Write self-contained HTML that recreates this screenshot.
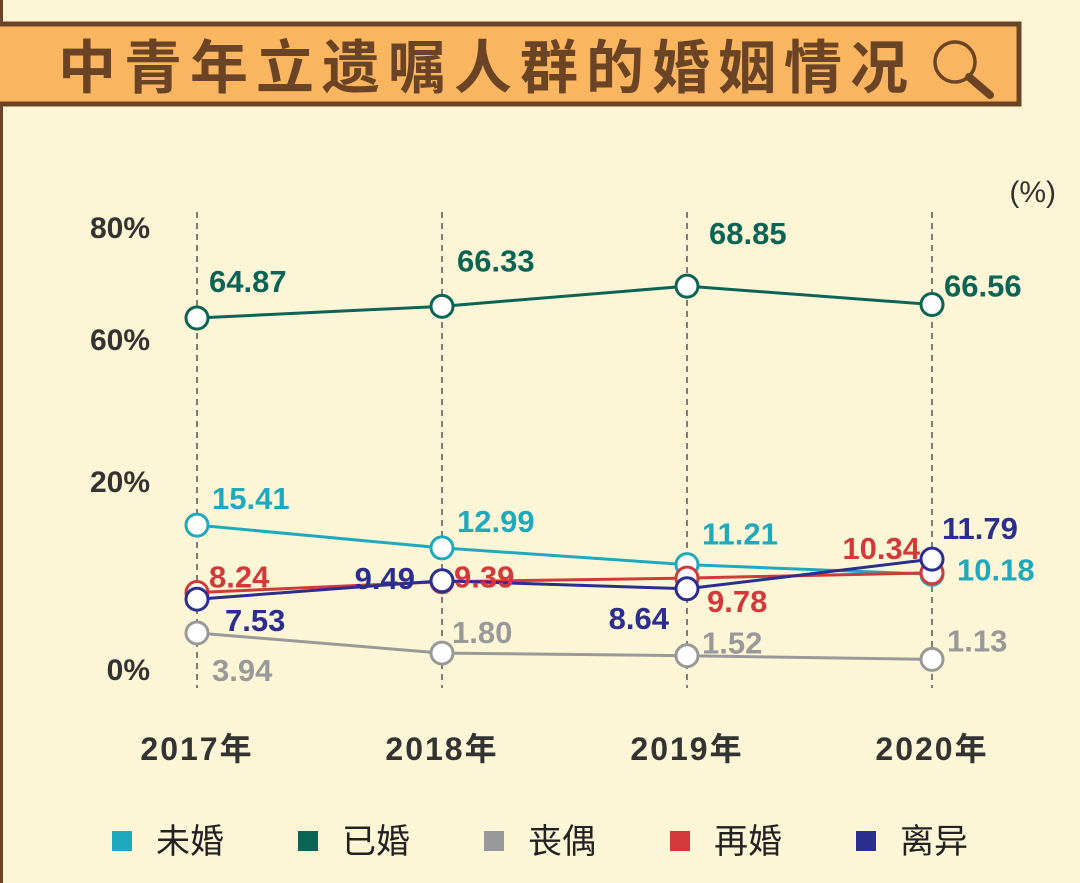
<!DOCTYPE html>
<html><head><meta charset="utf-8"><style>
body{margin:0;width:1080px;height:883px;background:#fdf6d6;overflow:hidden;font-family:"Liberation Sans","Noto Sans CJK SC",sans-serif}
</style></head><body>
<svg width="1080" height="883" style="position:absolute;left:0;top:0">
<rect x="0" y="0" width="1080" height="883" fill="#fdf6d6"/>
<rect x="0" y="0" width="3" height="883" fill="#6b4426"/>
<rect x="-4" y="24" width="1023" height="80" fill="#f9b560" stroke="#6b4426" stroke-width="5"/>
<text x="58" y="88" font-size="58" font-weight="bold" fill="#6b4426" font-family="Noto Sans CJK SC,sans-serif" letter-spacing="8">中青年立遗嘱人群的婚姻情况</text>
<g fill="none" stroke="#6b4426" stroke-width="3.5"><circle cx="955" cy="62" r="20"/><line x1="969" y1="77" x2="990" y2="95" stroke-width="8" stroke-linecap="round"/></g>
<text x="1056" y="202" font-size="30" text-anchor="end" fill="#333">(%)</text>
<g id="axis" font-size="30" font-weight="bold" fill="#333" text-anchor="end"></g>
<g id="grid"></g><g id="lines"></g><g id="labels"></g><g id="legend"></g>
</svg>
<script>
const years=["2017年","2018年","2019年","2020年"];
const weiHun=[15.41,12.99,11.21,10.18];
const yiHun=[64.87,66.33,68.85,66.56];
const sangOu=[3.94,1.80,1.52,1.13];
const zaiHun=[8.24,9.39,9.78,10.34];
const liYi=[7.53,9.49,8.64,11.79];
const yTicks=[0,20,60,80];
const yTickLabels=["0%","20%","60%","80%"];
const NS="http://www.w3.org/2000/svg";
function X(i){return 197+i*245;}
function Y(v){return v<40?670-v*9.4:318-(v-64.87)*8;}
function TY(v){return {0:670,20:482,60:340,80:228}[v];}
function mk(t,a,p){const e=document.createElementNS(NS,t);for(const k in a)e.setAttribute(k,a[k]);(p||document.getElementById('lines')).appendChild(e);return e;}
const ax=document.getElementById('axis');
yTicks.forEach((v,i)=>{const t=mk('text',{x:150,y:TY(v)+10},ax);t.textContent=yTickLabels[i];

});
const g=document.getElementById('grid');
years.forEach((y,i)=>{const l=mk('line',{x1:X(i),x2:X(i),y1:212,y2:688,stroke:'#555','stroke-width':1.5,'stroke-dasharray':'6,5'},g);


const t=mk('text',{x:X(i),y:760,'font-size':32,'text-anchor':'middle',fill:'#333','font-weight':'bold','letter-spacing':2},g);t.textContent=y;

});
const series=[
{n:'weihun',d:weiHun,c:'#1fa9bd',off:[[15,-26,'s'],[15,-26,'s'],[15,-30,'s'],[25,-4,'s']]},
{n:'yihun',d:yiHun,c:'#0b6455',off:[[12,-36,'s'],[15,-45,'s'],[22,-52,'s'],[12,-18,'s']]},
{n:'sangou',d:sangOu,c:'#999',off:[[15,38,'s'],[10,-20,'s'],[15,-12,'s'],[15,-18,'s']]},
{n:'zaihun',d:zaiHun,c:'#d23a3a',off:[[12,-15,'s'],[12,-4,'s'],[20,24,'s'],[-12,-24,'e']]},
{n:'liyi',d:liYi,c:'#2b2d8f',off:[[28,22,'s'],[-27,-2,'e'],[-18,30,'e'],[10,-30,'s']]}];
const lab=document.getElementById('labels');
series.forEach(s=>{
const p=mk('polyline',{points:s.d.map((v,i)=>X(i)+','+Y(v)).join(' '),fill:'none',stroke:s.c,'stroke-width':3});


s.d.forEach((v,i)=>{const c=mk('circle',{cx:X(i),cy:Y(v),r:11,fill:'#fff',stroke:s.c,'stroke-width':3});


const o=s.off[i];const t=mk('text',{x:X(i)+o[0],y:Y(v)+o[1]+10,'font-size':31,'font-weight':'bold',fill:s.c,'text-anchor':o[2]=='e'?'end':'start'},lab);t.textContent=v.toFixed(2);

});});
const names=["未婚","已婚","丧偶","再婚","离异"];
const lg=document.getElementById('legend');
series.forEach((s,i)=>{const x=112+i*186;
const r=mk('rect',{x:x,y:831,width:20,height:20,fill:s.c},lg);


const t=mk('text',{x:x+44,y:853,'font-size':34,fill:'#222','font-family':'Noto Sans CJK SC,sans-serif'},lg);t.textContent=names[i];

});
</script>
</body></html>
